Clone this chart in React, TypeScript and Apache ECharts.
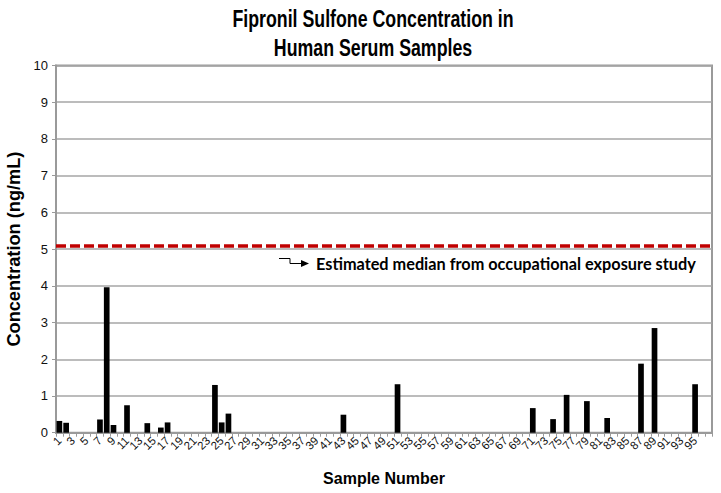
import React, { useEffect, useRef } from "react";
import * as echarts from "echarts";

const TITLE_LINES = ["Fipronil Sulfone Concentration in", "Human Serum Samples"];
const X_NAME = "Sample Number";
const Y_NAME = "Concentration (ng/mL)";
const NOTE = "Estimated median from occupational exposure study";

// sample numbers 1..97 (last one unlabelled)
const sampleCount = 97;
const categories: string[] = Array.from({ length: sampleCount }, (_, i) => String(i + 1));

// detected samples: [sample number, concentration ng/mL]
const detectedSamples: number[] = [1, 2, 7, 8, 9, 11, 14, 16, 17, 24, 25, 26, 43, 51, 71, 74, 76, 79, 82, 87, 89, 95];
const detectedValues: number[] = [0.32, 0.27, 0.36, 3.96, 0.21, 0.75, 0.26, 0.14, 0.28, 1.3, 0.28, 0.52, 0.49, 1.32, 0.67, 0.37, 1.03, 0.86, 0.4, 1.88, 2.85, 1.32];

const occupationalMedian = 5.1;

const yTicks = { min: 0, max: 10, interval: 1 };

export default function App() {
  const ref = useRef<HTMLDivElement>(null);
  useEffect(() => {
    if (!ref.current) return;
    const chart = echarts.init(ref.current, undefined, { renderer: "svg" });
    const values = categories.map(() => 0);
    detectedSamples.forEach((s, i) => {
      values[s - 1] = detectedValues[i];
    });
    const titleFont = "'Liberation Sans', Arial, sans-serif";
    chart.setOption({
      animation: false,
      backgroundColor: "#ffffff",
      grid: {
        left: 56,
        right: 9,
        top: 65.5,
        bottom: 60.3,
        show: true,
        borderColor: "#9a9a9a",
        borderWidth: 2,
        containLabel: false,
        outerBoundsMode: "none",
      },
      xAxis: {
        type: "category",
        data: categories,
        name: X_NAME,
        nameLocation: "middle",
        nameGap: 38,
        nameTextStyle: {
          fontFamily: titleFont,
          fontWeight: "bold",
          fontSize: 16,
          color: "#000",
        },
        axisLine: { lineStyle: { color: "#9a9a9a", width: 2 } },
        axisTick: { show: true, interval: 0, length: 4, lineStyle: { color: "#9a9a9a", width: 1 } },
        axisLabel: {
          interval: 1,
          rotate: 45,
          margin: 6,
          fontFamily: titleFont,
          fontSize: 11.5,
          color: "#111",
          formatter: (v: string) => (v === String(sampleCount) ? "" : v),
        },
      },
      yAxis: {
        type: "value",
        min: yTicks.min,
        max: yTicks.max,
        interval: yTicks.interval,
        name: Y_NAME,
        nameLocation: "middle",
        nameGap: 32,
        nameTextStyle: {
          fontFamily: titleFont,
          fontWeight: "bold",
          fontSize: 18.2,
          color: "#000",
        },
        axisLine: { show: true, lineStyle: { color: "#9a9a9a", width: 2 } },
        axisTick: { show: true, length: 4, lineStyle: { color: "#9a9a9a" } },
        axisLabel: {
          margin: 8,
          fontFamily: titleFont,
          fontSize: 13,
          color: "#111",
        },
        splitLine: { show: true, lineStyle: { color: "#a6a6a6", width: 1.5 } },
      },
      series: [
        {
          type: "bar",
          data: values,
          barWidth: "84%",
          itemStyle: { color: "#000" },
          markLine: {
            silent: true,
            symbol: "none",
            label: { show: false },
            lineStyle: { color: "#c00000", width: 3.5, type: [10, 4] },
            data: [{ yAxis: occupationalMedian }],
          },
        },
      ],
      graphic: [
        {
          type: "text",
          x: 373,
          y: 4,
          scaleX: 0.74,
          style: {
            text: TITLE_LINES.join("\n"),
            fontFamily: titleFont,
            fontWeight: "bold",
            fontSize: 24,
            lineHeight: 29,
            fill: "#000",
            align: "center",
            verticalAlign: "top",
          },
        },
        {
          type: "polyline",
          shape: { points: [[279, 258.5], [290, 258.5], [290, 263.5], [302, 263.5]] },
          style: { stroke: "#000", lineWidth: 1, fill: "none" },
        },
        {
          type: "polygon",
          shape: { points: [[301, 260], [309, 263.5], [301, 267]] },
          style: { fill: "#000" },
        },
        {
          type: "text",
          x: 316,
          y: 263,
          style: {
            text: NOTE,
            fontFamily: "Lato, 'Open Sans', sans-serif",
            fontWeight: "bold",
            fontSize: 16.3,
            fill: "#000",
            verticalAlign: "middle",
            align: "left",
          },
        },
      ],
    });
    return () => chart.dispose();
  }, []);
  return (
    <div
      ref={ref}
      style={{ position: "fixed", left: 0, top: 0, width: 721, height: 493 }}
    />
  );
}
